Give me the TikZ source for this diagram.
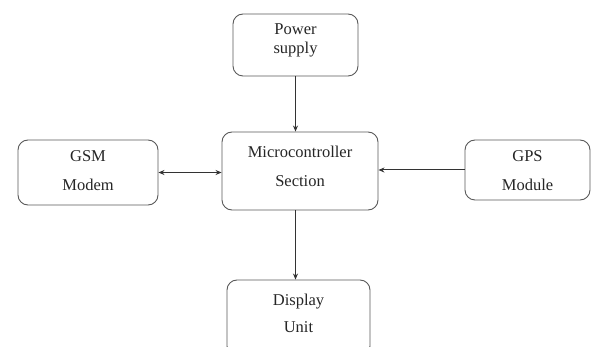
\documentclass[tikz,border=0pt]{standalone}
\usepackage{fontspec}
\setmainfont{Liberation Serif}
\usetikzlibrary{arrows.meta}
\begin{document}
\begin{tikzpicture}[x=1pt,y=-1pt,
  blk/.style={draw=black!65,line width=0.9pt,rounded corners=10pt,fill=white,inner sep=0pt},
  lbl/.style={font=\fontsize{16.5}{20}\selectfont,text=black!85,align=center},
  conn/.style={draw=black!80,line width=1pt,-{Stealth[length=6pt,width=5pt]}}]
\useasboundingbox (0,0) rectangle (592,347);
\clip (0,0) rectangle (592,347);
\node[blk,minimum width=125pt,minimum height=62pt] (power) at (295.5,45) {};
\node[lbl] (powertext) at (295.5,40) {Power\\[-1pt]supply};
\node[blk,minimum width=156pt,minimum height=78pt] (micro) at (300,171) {};
\node[lbl] (microtext) at (300,166) {Microcontroller\\[9pt]Section};
\node[blk,minimum width=140pt,minimum height=65pt] (gsm) at (88,172.5) {};
\node[lbl] (gsmtext) at (88,171) {GSM\\[9pt]Modem};
\node[blk,minimum width=125pt,minimum height=60pt] (gps) at (527.5,170) {};
\node[lbl] (gpstext) at (527.5,171) {GPS\\[9pt]Module};
\node[blk,minimum width=143pt,minimum height=76pt] (disp) at (298.5,318) {};
\node[lbl] (disptext) at (298.5,313) {Display\\[7pt]Unit};
\draw[conn] (power.south) -- (power.south |- micro.north);
\draw[conn] (micro.south -| power.south) -- (disp.north -| power.south);
\draw[conn,{Stealth[length=6pt,width=5pt]}-{Stealth[length=6pt,width=5pt]}] (gsm.east) -- (micro.west |- gsm.east);
\draw[conn] (gps.west) -- (micro.east |- gps.west);
\end{tikzpicture}
\end{document}
